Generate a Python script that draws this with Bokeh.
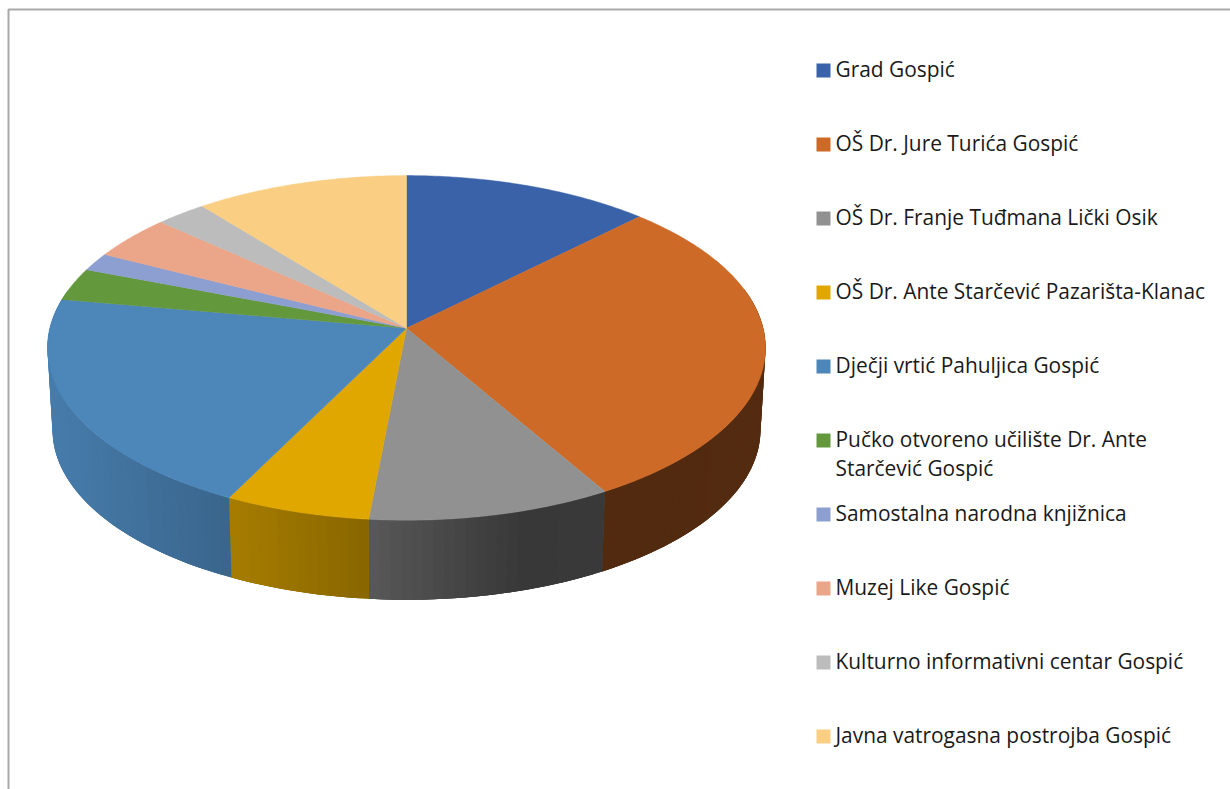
import numpy as np
from bokeh.plotting import figure
from bokeh.models import Range1d
from bokeh.core.properties import value
from bokeh.embed import file_html
from bokeh.resources import INLINE

categories = [
    "Grad Gospić",
    "OŠ Dr. Jure Turića Gospić",
    "OŠ Dr. Franje Tuđmana Lički Osik",
    "OŠ Dr. Ante Starčević Pazarišta-Klanac",
    "Dječji vrtić Pahuljica Gospić",
    "Pučko otvoreno učilište Dr. Ante\nStarčević Gospić",
    "Samostalna narodna knjižnica",
    "Muzej Like Gospić",
    "Kulturno informativni centar Gospić",
    "Javna vatrogasna postrojba Gospić",
]
shares = [12.47, 29.17, 9.86, 5.87, 20.39, 3.07, 1.70, 4.19, 2.56, 10.72]
colors = ["#3A62A9", "#CD6A28", "#919191", "#DFA700", "#4D87BA",
          "#63983C", "#8C9FD0", "#EBA588", "#BCBCBC", "#FACE83"]

FONT = value("Open Sans")
FONT_SIZE = "20.9px"
CX, TOP_CY, TOP_RX, TOP_RY = 406.0, 347.4, 359.0, 172.3
BOT_CY, BOT_RX, BOT_RY = 429.3, 354.0, 170.0
APEX = 19.7
K = APEX / TOP_RY
S = np.sqrt(1 - K ** 2)


def project(theta, cy, rx, ry):
    """Perspective view of the unit circle, clockwise from the top."""
    u, v = np.sin(theta), np.cos(theta)
    w = K * v + 1
    return CX + rx * S * u / w, cy - (ry * v + K * ry) / w


def shade(x):
    return np.interp(x, [52, 230, 369, 520, 765], [0.92, 0.75, 0.61, 0.39, 0.41])


def scaled(color, f):
    r, g, b = [int(color[i:i + 2], 16) for i in (1, 3, 5)]
    return "#%02x%02x%02x" % (int(r * f), int(g * f), int(b * f))


def wall(a, b):
    xa, ya = project(np.array([a, b]), TOP_CY, TOP_RX, TOP_RY)
    xb, yb = project(np.array([b, a]), BOT_CY, BOT_RX, BOT_RY)
    return np.concatenate([xa, xb]).tolist(), np.concatenate([ya, yb]).tolist(), xa.mean()


p = figure(width=1230, height=789, x_range=Range1d(0, 1230), y_range=Range1d(789, 0),
           output_backend="svg", toolbar_location=None, min_border=0,
           outline_line_color=None, background_fill_color="white",
           border_fill_color="white")
p.axis.visible = False
p.grid.visible = False

# Frame (only the top and left edges show)
p.line([8, 8, 1230], [789, 9, 9], line_color="#A9A9A9", line_width=2)

edges = np.radians(np.concatenate([[0], np.cumsum(shares)]) * 3.6)

# Side wall: an underlay per slice, then overlapping strips for the shading
ux, uy, uf, xs, ys, fills = [], [], [], [], [], []
for i, c in enumerate(colors):
    lo, hi = edges[i], edges[i + 1]
    n = max(2, int(np.degrees(hi - lo) / 1.5))
    t = np.linspace(lo, hi, n + 1)
    t = t[np.cos(t) < 0.25]
    if len(t) < 2:
        continue
    tx_ = project(t, TOP_CY, TOP_RX, TOP_RY)
    bx_ = project(t[::-1], BOT_CY, BOT_RX, BOT_RY)
    ux.append(tx_[0].tolist() + bx_[0].tolist())
    uy.append(tx_[1].tolist() + bx_[1].tolist())
    uf.append(scaled(c, float(shade(tx_[0].mean()))))
    step = t[1] - t[0]
    for a in t[:-1]:
        b = min(a + 2 * step, t[-1])
        wx, wy, xm = wall(a, b)
        xs.append(wx)
        ys.append(wy)
        fills.append(scaled(c, float(shade(project(a + step / 2, TOP_CY, TOP_RX, TOP_RY)[0]))))
p.patches(ux, uy, fill_color=uf, line_color=None)
p.patches(xs, ys, fill_color=fills, line_color=None)

# Top face
xs, ys = [], []
for i in range(len(shares)):
    n = max(4, int(np.degrees(edges[i + 1] - edges[i]) * 2))
    t = np.linspace(edges[i], edges[i + 1], n + 1)
    x, y = project(t, TOP_CY, TOP_RX, TOP_RY)
    xs.append([CX] + x.tolist())
    ys.append([TOP_CY - APEX] + y.tolist())
p.patches(xs, ys, fill_color=colors, line_color=colors, line_width=0.5)

# Legend
row_y = [70 + 74 * i for i in range(len(categories))]
p.rect([823] * len(categories), row_y, width=14, height=14,
       fill_color=colors, line_color=None)
tx, ty, tt = [], [], []
for label, y in zip(categories, row_y):
    for j, part in enumerate(label.split("\n")):
        tx.append(835)
        ty.append(y - 1.5 + 29 * j)
        tt.append(part)
p.text(tx, ty, text=tt, text_font=FONT, text_font_size=FONT_SIZE,
       text_baseline="middle", text_align="left", text_color="#1A1A1A")

open("out.html", "w").write(file_html(p, INLINE))
